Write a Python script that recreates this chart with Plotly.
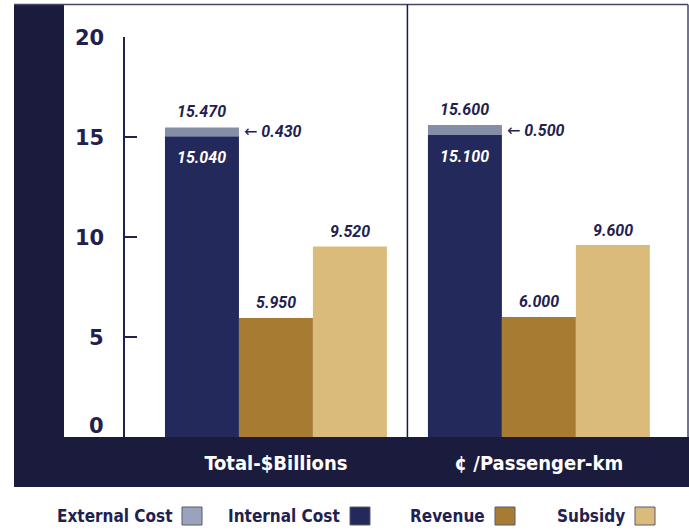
import plotly.graph_objects as go

# ---------------- data ----------------
categories = ["Total-$Billions", "¢ /Passenger-km"]
internal_cost = [15.04, 15.10]
external_cost = [0.43, 0.50]
revenue = [5.95, 6.00]
subsidy = [9.52, 9.60]
y_ticks = [0, 5, 10, 15, 20]
legend_names = ["External Cost", "Internal Cost", "Revenue", "Subsidy"]

# ---------------- styles ----------------
FRAME = "#1b1b3d"
TEXT = "#1f2150"
C_INT = "#23295a"
C_EXT = "#858ea6"
C_REV = "#a87b32"
C_SUB = "#dbbb7c"
legend_colors = ["#9aa3bb", C_INT, C_REV, C_SUB]

W, H = 689, 531
ML, MR, MT, MB = 125, 1, 37, 94
PW, PH = W - ML - MR, H - MT - MB
BARGAP = 0.156
XRANGE = [-0.574, 1.567]


def px_x(p):
    return (p - ML) / PW


def px_y(p):
    return (H - MB - p) / PH


fig = go.Figure()
fig.add_trace(go.Bar(name="Internal Cost", x=categories, y=internal_cost,
                     offsetgroup="cost", marker=dict(color=C_INT, line=dict(width=0))))
fig.add_trace(go.Bar(name="External Cost", x=categories, y=external_cost, base=internal_cost,
                     offsetgroup="cost", marker=dict(color=C_EXT, line=dict(width=0))))
fig.add_trace(go.Bar(name="Revenue", x=categories, y=revenue,
                     offsetgroup="rev", marker=dict(color=C_REV, line=dict(width=0))))
fig.add_trace(go.Bar(name="Subsidy", x=categories, y=subsidy,
                     offsetgroup="sub", marker=dict(color=C_SUB, line=dict(width=0))))

shapes = []
# frame: left band, bottom band, top and right border
shapes.append(dict(type="rect", xref="paper", yref="paper", layer="below",
                   x0=px_x(14), x1=px_x(64), y0=px_y(487), y1=px_y(4),
                   fillcolor=FRAME, line=dict(width=0)))
shapes.append(dict(type="rect", xref="paper", yref="paper", layer="below",
                   x0=px_x(14), x1=px_x(689), y0=px_y(487), y1=px_y(437),
                   fillcolor=FRAME, line=dict(width=0)))
shapes.append(dict(type="line", xref="paper", yref="paper",
                   x0=px_x(14), x1=px_x(688), y0=px_y(4.5), y1=px_y(4.5),
                   line=dict(color="#45456a", width=1.5)))
shapes.append(dict(type="line", xref="paper", yref="paper",
                   x0=px_x(688), x1=px_x(688), y0=px_y(4.5), y1=0,
                   line=dict(color="#45456a", width=1.5)))
# panel divider between the two categories
shapes.append(dict(type="line", xref="x", yref="paper",
                   x0=0.5, x1=0.5, y0=0, y1=px_y(4.5),
                   line=dict(color=FRAME, width=1.5)))

annotations = []
val_font = dict(family="Roboto", size=16, color=TEXT, weight="bold", style="italic")
arrow = "<span style='font-family:DejaVu Sans;font-style:normal;font-weight:normal'>←</span>"
bw = (1 - BARGAP) / 3
for i in range(len(categories)):
    total = internal_cost[i] + external_cost[i]
    xc = i - bw
    annotations.append(dict(x=xc, y=total, xref="x", yref="y", text=f"{total:.3f}",
                            showarrow=False, yshift=16, font=val_font))
    annotations.append(dict(x=xc, y=internal_cost[i], xref="x", yref="y",
                            text=f"{internal_cost[i]:.3f}", showarrow=False, yshift=-21,
                            font=dict(val_font, color="white")))
    annotations.append(dict(x=i - bw / 2, y=internal_cost[i] + external_cost[i] / 2,
                            xref="x", yref="y", text=f"{arrow} {external_cost[i]:.3f}",
                            showarrow=False, xanchor="left", xshift=3, font=val_font))
    annotations.append(dict(x=i, y=revenue[i], xref="x", yref="y", text=f"{revenue[i]:.3f}",
                            showarrow=False, yshift=16, font=val_font))
    annotations.append(dict(x=i + bw, y=subsidy[i], xref="x", yref="y", text=f"{subsidy[i]:.3f}",
                            showarrow=False, yshift=15, font=val_font))

# y tick labels
for v in y_ticks:
    annotations.append(dict(x=0, y=v, xref="paper", yref="y", text=str(v), showarrow=False,
                            xanchor="right", xshift=-19, yshift=(11 if v == 0 else -1),
                            font=dict(family="DejaVu Sans", size=21, color=TEXT, weight="bold")))

# manual legend: text followed by swatch
legend_text_right = [174, 342, 487, 627]
for name, col, xr in zip(legend_names, legend_colors, legend_text_right):
    annotations.append(dict(x=px_x(xr), y=px_y(516), xref="paper", yref="paper", text=name,
                            showarrow=False, xanchor="right", yanchor="middle",
                            font=dict(family="DejaVu Sans Condensed", size=17, color=TEXT,
                                      weight="bold")))
    shapes.append(dict(type="rect", xref="paper", yref="paper",
                       x0=px_x(xr + 8), x1=px_x(xr + 28), y0=px_y(525), y1=px_y(507),
                       fillcolor=col, line=dict(color="#5a5a70", width=1)))

fig.update_layout(
    width=W, height=H, autosize=False,
    margin=dict(l=ML, r=MR, t=MT, b=MB, pad=0),
    paper_bgcolor="white", plot_bgcolor="white",
    barmode="group", bargap=BARGAP, bargroupgap=0,
    showlegend=False,
    shapes=shapes, annotations=annotations,
    xaxis=dict(type="category", range=XRANGE, showgrid=False, showline=False, zeroline=False,
               ticks="outside", ticklen=8, tickcolor="rgba(0,0,0,0)", ticklabelstandoff=0,
               tickfont=dict(family="DejaVu Sans Condensed", size=20, color="white", weight="bold")),
    yaxis=dict(range=[0, 20], tickvals=y_ticks, showticklabels=False, showgrid=False,
               zeroline=False, showline=True, linecolor=TEXT, linewidth=1.5,
               ticks="inside", ticklen=12, tickwidth=1.5, tickcolor=TEXT),
)

fig.write_html("out.html")
